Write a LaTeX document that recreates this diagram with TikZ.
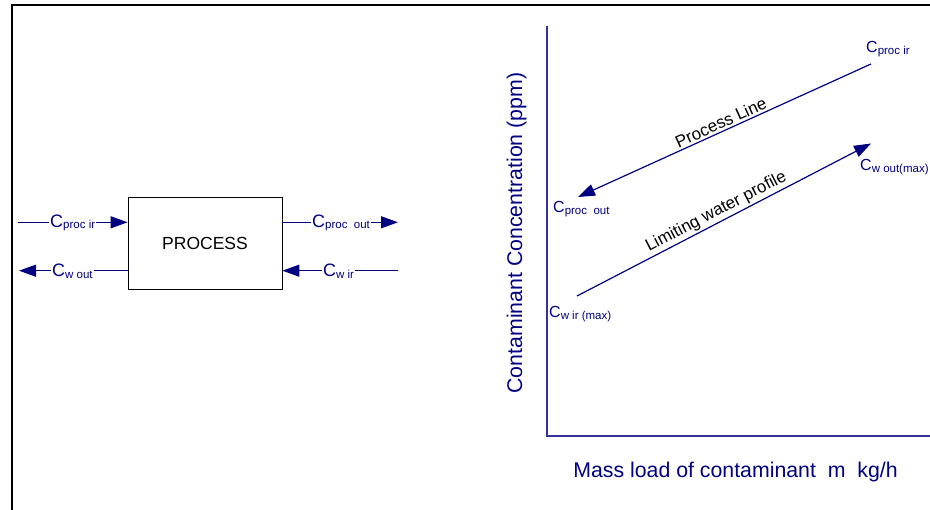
\documentclass[tikz,border=0pt]{standalone}
\usepackage{fontspec}
\setmainfont{Liberation Sans}
\usetikzlibrary{arrows.meta}
\definecolor{ink}{HTML}{000080}
\definecolor{axisblue}{HTML}{333399}
% C with a lowered subscript, e.g. \csub{proc ir}
\newcommand{\csub}[1]{C{\fontsize{11.5}{11.5}\selectfont\raisebox{-1.5pt}{#1}}}
\begin{document}
\begin{tikzpicture}[x=1pt,y=-1pt,
  flow/.style={draw=ink,line width=1.2pt},
  tip/.style={-{Triangle[length=17pt,width=12pt]}},
  bigtag/.style={text=ink,inner sep=1pt,anchor=base west,font=\fontsize{18}{18}\selectfont},
  smalltag/.style={text=ink,inner sep=1pt,anchor=base west,font=\fontsize{16}{16}\selectfont},
  axisline/.style={draw=axisblue,line width=2pt},
  axislabel/.style={text=ink,inner sep=0pt,anchor=base,font=\fontsize{21.3}{21.3}\selectfont},
  linelabel/.style={text=black,inner sep=2pt,font=\fontsize{17}{17}\selectfont}]
\useasboundingbox (0,0) rectangle (930,510);

% outer frame
\draw[line width=2pt] (12,510) -- (12,5.5) -- (930,5.5);

% ---- process block with its four streams ----
\node[draw=black,line width=0.8pt,minimum width=154pt,minimum height=92pt,
      inner sep=0pt,font=\fontsize{17.5}{17.5}\selectfont] (proc) at (205,243) {PROCESS};

\coordinate (pinL) at (18,222.3);
\coordinate (poutR) at (398,222.3);
\coordinate (woutL) at (19,270.7);
\coordinate (winR) at (398,270.7);

\node[bigtag] (tpin) at (49,227.3) {\csub{proc ir}};
\node[bigtag] (tpout) at (311,227.3) {\csub{proc\ \ out}};
\node[bigtag] (twout) at (51,277) {\csub{w out}};
\node[bigtag] (twin) at (322,277) {\csub{w ir}};

\draw[flow] (pinL) -- (pinL -| tpin.west);
\draw[flow,tip] (pinL -| tpin.east) -- (pinL -| proc.west);
\draw[flow] (pinL -| proc.east) -- (pinL -| tpout.west);
\draw[flow,tip] (pinL -| tpout.east) -- (poutR);
\draw[flow,tip] (woutL -| twout.west) -- (woutL);
\draw[flow] (woutL -| proc.west) -- (woutL -| twout.east);
\draw[flow,tip] (winR -| twin.west) -- (winR -| proc.east);
\draw[flow] (winR) -- (winR -| twin.east);

% ---- concentration / mass load plot ----
\coordinate (ytop) at (547,26);
\coordinate (origin) at (547,436);
\coordinate (xend) at (930,436);
\draw[axisline] (ytop) -- (origin) -- (xend);

\node[axislabel,rotate=90] (ylab) at (522,233) {Contaminant Concentration (ppm)};
\node[axislabel] (xlab) at (735.5,478) {Mass load of contaminant\ \ m\ \ kg/h};

\coordinate (cpin) at (871,64);
\coordinate (cpout) at (578,197);
\coordinate (cwin) at (577,296);
\coordinate (cwout) at (871,143.5);

\draw[flow,tip] (cpin) -- node[linelabel,sloped,above,pos=0.5] (plab) {Process Line} (cpout);
\draw[flow,tip] (cwin) -- node[linelabel,sloped,above,pos=0.49] (wlab) {Limiting water profile} (cwout);

\node[smalltag] (rpin) at (865,53) {\csub{proc ir}};
\node[smalltag] (rwout) at (859,171) {\csub{w out(max)}};
\node[smalltag] (rpout) at (552,213) {\csub{proc\ \ out}};
\node[smalltag] (rwin) at (548,318) {\csub{w ir (max)}};
\end{tikzpicture}
\end{document}
